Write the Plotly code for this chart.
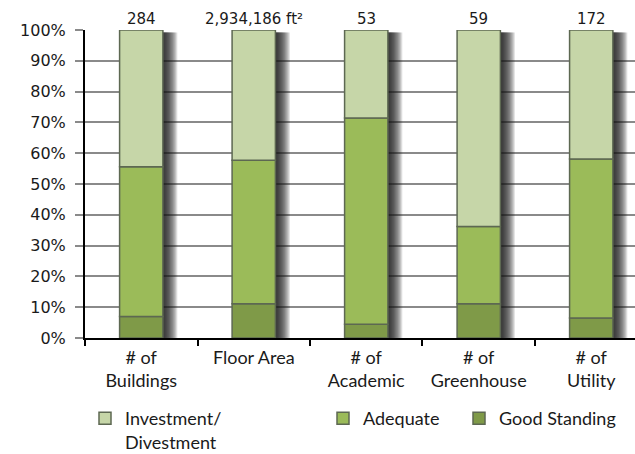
import plotly.graph_objects as go

categories = ["# of<br>Buildings", "Floor Area", "# of<br>Academic", "# of<br>Greenhouse", "# of<br>Utility"]
totals_labels = ["284", "2,934,186 ft²", "53", "59", "172"]
good_standing = [7.0, 11.1, 4.5, 11.1, 6.5]
adequate = [48.6, 46.6, 66.9, 25.1, 51.6]
investment = [44.4, 42.3, 28.6, 63.8, 41.9]

colors = {"Investment/<br>Divestment": "#c6d6a8", "Adequate": "#9bbb59", "Good Standing": "#7f9a48"}
legend_ids = {"Investment/<br>Divestment": "legend", "Adequate": "legend2", "Good Standing": "legend3"}

BAR_W = 0.385
CAT_FONT = "Lato"
NUM_FONT = "DejaVu Sans"

fig = go.Figure()

# soft right-side shadows behind each stacked bar
totals = [g + a + i for g, a, i in zip(good_standing, adequate, investment)]
px = 1 / 112.5
n_layers = 12
for k in range(1, n_layers + 1):
    fig.add_trace(go.Bar(
        x=categories, y=[t - 0.8 for t in totals], base=[0] * len(totals),
        width=BAR_W, offset=-BAR_W / 2 + k * 1.2 * px,
        marker=dict(color="rgba(20,20,20,0.14)", line=dict(width=0)),
        showlegend=False, hoverinfo="skip",
    ))

bases_gs = [0] * len(categories)
bases_ad = good_standing
bases_inv = [g + a for g, a in zip(good_standing, adequate)]

stack = [
    ("Good Standing", good_standing, bases_gs),
    ("Adequate", adequate, bases_ad),
    ("Investment/<br>Divestment", investment, bases_inv),
]
for name, vals, base in stack:
    fig.add_trace(go.Bar(
        x=categories, y=vals, base=base, name=name,
        width=BAR_W, offset=-BAR_W / 2,
        marker=dict(color=colors[name], line=dict(color="#5d6852", width=1.5)),
        legend=legend_ids[name],
    ))

for cat, lab in zip(categories, totals_labels):
    fig.add_annotation(x=cat, y=100, yref="y", xref="x", text=lab, showarrow=False,
                       yanchor="bottom", yshift=0,
                       font=dict(family=NUM_FONT, size=15, color="#1a1a1a"))

leg_common = dict(
    orientation="h", xanchor="left", yref="container", y=1 - 400 / 454, yanchor="top",
    valign="top",
    font=dict(family=CAT_FONT, size=18, color="#1a1a1a"),
    itemwidth=30, bgcolor="rgba(0,0,0,0)",
)

fig.update_layout(
    width=635, height=454, autosize=False,
    margin=dict(l=85, r=0, t=30, b=116, autoexpand=False),
    barmode="overlay",
    plot_bgcolor="white", paper_bgcolor="white",
    xaxis=dict(
        type="category", range=[-0.5, 4.389], tickson="boundaries",
        ticks="outside", ticklen=6, tickwidth=2, tickcolor="black",
        showline=True, linecolor="black", linewidth=2,
        showgrid=False, tickfont=dict(family=CAT_FONT, size=18, color="#1a1a1a"),
        ticklabelstandoff=2, fixedrange=True,
    ),
    yaxis=dict(
        range=[0, 100], dtick=10, ticksuffix="%",
        showgrid=True, gridcolor="#8a8a8a", gridwidth=1.5,
        ticks="outside", ticklen=8, tickcolor="#8a8a8a", tickwidth=1.5,
        showline=True, linecolor="black", linewidth=2,
        tickfont=dict(family=NUM_FONT, size=16, color="#1a1a1a"),
        ticklabelstandoff=6,
        zeroline=False, fixedrange=True,
    ),
    legend=dict(x=0.0, **leg_common),
    legend2=dict(x=(323 - 85) / 550, **leg_common),
    legend3=dict(x=(459 - 85) / 550, **leg_common),
)

fig.write_html("out.html")
